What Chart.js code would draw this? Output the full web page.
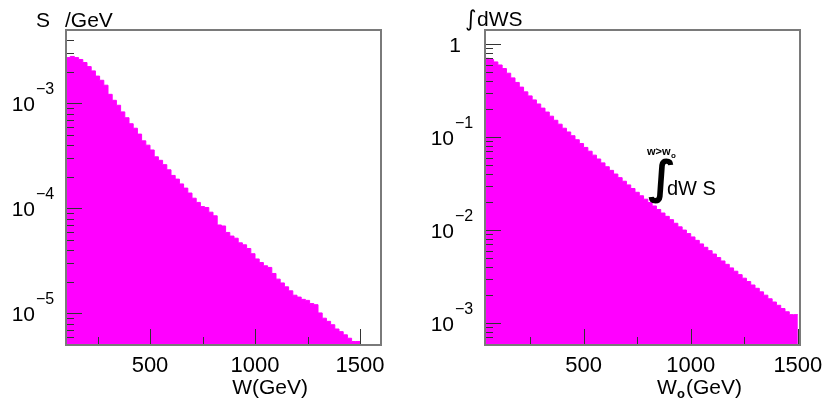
<!DOCTYPE html>
<html>
<head>
<meta charset="utf-8">
<script src="https://cdn.jsdelivr.net/npm/chart.js@4.4.1/dist/chart.umd.min.js"></script>
<style>
    html, body { margin: 0; padding: 0; background: #fff; }
    #wrap { position: relative; width: 828px; height: 408px; }
    .panel { position: absolute; top: 0; }
</style>
</head>
<body>
<div id="wrap">
    <canvas id="left-chart" class="panel" style="left:0" width="414" height="408"></canvas>
    <canvas id="right-chart" class="panel" style="left:414px" width="414" height="408"></canvas>
</div>
<script>
// bin low edges (GeV), 20 GeV bins
const spectrumEdges = [
    100, 120, 140, 160, 180, 200, 220, 240, 260, 280,
    300, 320, 340, 360, 380, 400, 420, 440, 460, 480,
    500, 520, 540, 560, 580, 600, 620, 640, 660, 680,
    700, 720, 740, 760, 780, 800, 820, 840, 860, 880,
    900, 920, 940, 960, 980, 1000, 1020, 1040, 1060, 1080,
    1100, 1120, 1140, 1160, 1180, 1200, 1220, 1240, 1260, 1280,
    1300, 1320, 1340, 1360, 1380, 1400, 1420, 1440, 1460, 1480,
];
// S / GeV
const spectrumValues = [
    1.97e-3, 2.73e-3, 2.80e-3, 2.73e-3, 2.62e-3, 2.45e-3, 2.24e-3, 2.04e-3, 1.82e-3, 1.66e-3,
    1.49e-3, 1.22e-3, 1.07e-3, 9.6e-4, 8.3e-4, 7.3e-4, 6.4e-4, 5.8e-4, 5.1e-4, 4.4e-4,
    4.0e-4, 3.6e-4, 3.1e-4, 2.87e-4, 2.61e-4, 2.33e-4, 2.06e-4, 1.90e-4, 1.71e-4, 1.56e-4,
    1.40e-4, 1.25e-4, 1.14e-4, 1.04e-4, 1.02e-4, 9.2e-5, 8.5e-5, 6.95e-5, 6.8e-5, 5.9e-5,
    5.45e-5, 5.2e-5, 4.7e-5, 4.5e-5, 4.15e-5, 3.7e-5, 3.3e-5, 3.05e-5, 2.84e-5, 2.74e-5,
    2.40e-5, 2.12e-5, 1.95e-5, 1.79e-5, 1.64e-5, 1.49e-5, 1.43e-5, 1.36e-5, 1.33e-5, 1.24e-5,
    1.21e-5, 1.01e-5, 9.0e-6, 8.4e-6, 7.8e-6, 7.1e-6, 6.7e-6, 6.25e-6, 5.8e-6, 5.4e-6,
];

// W0 bin low edges (GeV)
const integralEdges = [
    40, 60, 80, 100, 120, 140, 160, 180, 200, 220,
    240, 260, 280, 300, 320, 340, 360, 380, 400, 420,
    440, 460, 480, 500, 520, 540, 560, 580, 600, 620,
    640, 660, 680, 700, 720, 740, 760, 780, 800, 820,
    840, 860, 880, 900, 920, 940, 960, 980, 1000, 1020,
    1040, 1060, 1080, 1100, 1120, 1140, 1160, 1180, 1200, 1220,
    1240, 1260, 1280, 1300, 1320, 1340, 1360, 1380, 1400, 1420,
    1440, 1460, 1480,
];
// integral of S for W > W0
const integralValues = [
    0.70, 0.70, 0.68, 0.64, 0.593, 0.543, 0.484, 0.431, 0.385, 0.343,
    0.305, 0.276, 0.250, 0.226, 0.204, 0.185, 0.167, 0.151, 0.137, 0.124,
    0.113, 0.103, 0.0933, 0.0849, 0.0771, 0.0702, 0.0637, 0.0579, 0.0526, 0.0478,
    0.0437, 0.0399, 0.0365, 0.0334, 0.0305, 0.0279, 0.0254, 0.0233, 0.0214, 0.0197,
    0.0181, 0.0166, 0.0152, 0.0140, 0.0129, 0.0118, 0.0108, 0.00997, 0.00914, 0.00841,
    0.00773, 0.00708, 0.00651, 0.00599, 0.00551, 0.00505, 0.00464, 0.00427, 0.00391, 0.00360,
    0.00331, 0.00303, 0.00279, 0.00256, 0.00236, 0.00216, 0.00199, 0.00182, 0.00168, 0.00155,
    0.00143, 0.00132, 0.00123,
];

const xMajorTicks = [500, 1000, 1500];
const xMinorTicks = [250, 750, 1250];

const BIN_WIDTH = 20;
const FONT = '"Liberation Sans", Arial, sans-serif';
const MAGENTA = '#ff00ff';

function histPoints(edges, values) {
    const pts = edges.map((x, i) => ({ x: x, y: values[i] }));
    pts.push({ x: edges[edges.length - 1] + BIN_WIDTH, y: values[values.length - 1] });
    return pts;
}

/**
 * ROOT-like frame: grey box, inner ticks, 10^n labels, titles
 */
const rootFrame = {
    id: 'rootFrame',
    afterDatasetsDraw(chart, args, opts) {
        const ctx = chart.ctx;
        const area = chart.chartArea;
        const xs = chart.scales.x;
        const ys = chart.scales.y;
        ctx.save();

        // ticks
        ctx.strokeStyle = '#333';
        ctx.lineWidth = 1;
        const lo = Math.floor(Math.log10(ys.min));
        const hi = Math.ceil(Math.log10(ys.max));
        for (let k = lo; k <= hi; k++) {
            for (let m = 1; m <= 9; m++) {
                const v = m * Math.pow(10, k);
                if (v < ys.min || v > ys.max) continue;
                const y = Math.round(ys.getPixelForValue(v)) + 0.5;
                ctx.beginPath();
                ctx.moveTo(area.left, y);
                ctx.lineTo(area.left + (m === 1 ? 16 : 8), y);
                ctx.stroke();
            }
        }
        xMajorTicks.concat(xMinorTicks).forEach(v => {
            const x = Math.round(xs.getPixelForValue(v)) + 0.5;
            const len = xMajorTicks.includes(v) ? 16 : 8;
            ctx.beginPath();
            ctx.moveTo(x, area.bottom);
            ctx.lineTo(x, area.bottom - len);
            ctx.stroke();
        });

        // frame
        ctx.strokeStyle = '#7a7a7a';
        ctx.lineWidth = 2;
        ctx.strokeRect(area.left, area.top, area.right - area.left, area.bottom - area.top);

        // y labels
        ctx.fillStyle = '#000';
        opts.yLabels.forEach(exp => {
            const y = ys.getPixelForValue(Math.pow(10, exp));
            if (exp === 0) {
                ctx.font = '21px ' + FONT;
                ctx.textAlign = 'right';
                ctx.fillText('1', area.left - 24, y + 8);
                return;
            }
            const xr = area.left - 31;
            ctx.font = '21px ' + FONT;
            ctx.textAlign = 'right';
            ctx.fillText('10', xr, y + 8);
            ctx.font = '16px ' + FONT;
            ctx.textAlign = 'left';
            ctx.fillText('\u2212' + Math.abs(exp), xr + 1, y - 9);
        });

        // x labels
        ctx.font = '22px ' + FONT;
        ctx.textAlign = 'center';
        xMajorTicks.forEach(v => {
            ctx.fillText(String(v), xs.getPixelForValue(v), area.bottom + 27);
        });

        if (opts.draw) opts.draw(ctx, area);
        ctx.restore();
    },
};

function makeChart(id, edges, values, xr, yr, padding, frameOpts) {
    return new Chart(document.getElementById(id), {
        type: 'line',
        data: {
            datasets: [{
                data: histPoints(edges, values),
                stepped: 'after',
                fill: 'start',
                backgroundColor: MAGENTA,
                borderColor: MAGENTA,
                borderWidth: 1,
                pointRadius: 0,
            }],
        },
        options: {
            responsive: false,
            animation: false,
            layout: { padding: padding },
            plugins: {
                legend: { display: false },
                tooltip: { enabled: false },
                rootFrame: frameOpts,
            },
            scales: {
                x: { type: 'linear', min: xr[0], max: xr[1], display: false },
                y: { type: 'logarithmic', min: yr[0], max: yr[1], display: false },
            },
        },
        plugins: [rootFrame],
    });
}

makeChart('left-chart', spectrumEdges, spectrumValues, [100, 1600], [5e-6, 5e-3],
    { left: 66, top: 30, right: 33, bottom: 63 },
    {
        yLabels: [-3, -4, -5],
        draw(ctx, area) {
            ctx.font = '21px ' + FONT;
            ctx.textAlign = 'left';
            ctx.fillText('S', 36, 27);
            ctx.fillText('/GeV', 65, 27);
            ctx.textAlign = 'right';
            ctx.fillText('W(GeV)', 308, 394);
        },
    });

makeChart('right-chart', integralEdges, integralValues, [40, 1510], [5.8e-4, 1.41],
    { left: 71, top: 30, right: 28, bottom: 63 },
    {
        yLabels: [0, -1, -2, -3],
        draw(ctx, area) {
            ctx.textAlign = 'left';
            ctx.font = 'italic 22px "DejaVu Sans", sans-serif';
            ctx.fillText('\u222B', 51, 26);
            ctx.font = '21px ' + FONT;
            ctx.fillText('dWS', 63, 26);

            // axis title W0(GeV)
            ctx.fillText('W', 243, 394);
            ctx.font = 'bold 13px ' + FONT;
            ctx.fillText('o', 263, 398);
            ctx.font = '21px ' + FONT;
            ctx.fillText('(GeV)', 272, 394);

            // annotation
            ctx.font = 'bold 11px ' + FONT;
            ctx.fillText('w>w', 233, 155);
            ctx.font = 'bold 8px ' + FONT;
            ctx.fillText('o', 257, 158);
            ctx.font = 'bold 46px "DejaVu Sans", sans-serif';
            ctx.fillText('\u222B', 234, 193);
            ctx.font = '20px ' + FONT;
            ctx.fillText('dW S', 253, 195);
        },
    });
</script>
</body>
</html>
